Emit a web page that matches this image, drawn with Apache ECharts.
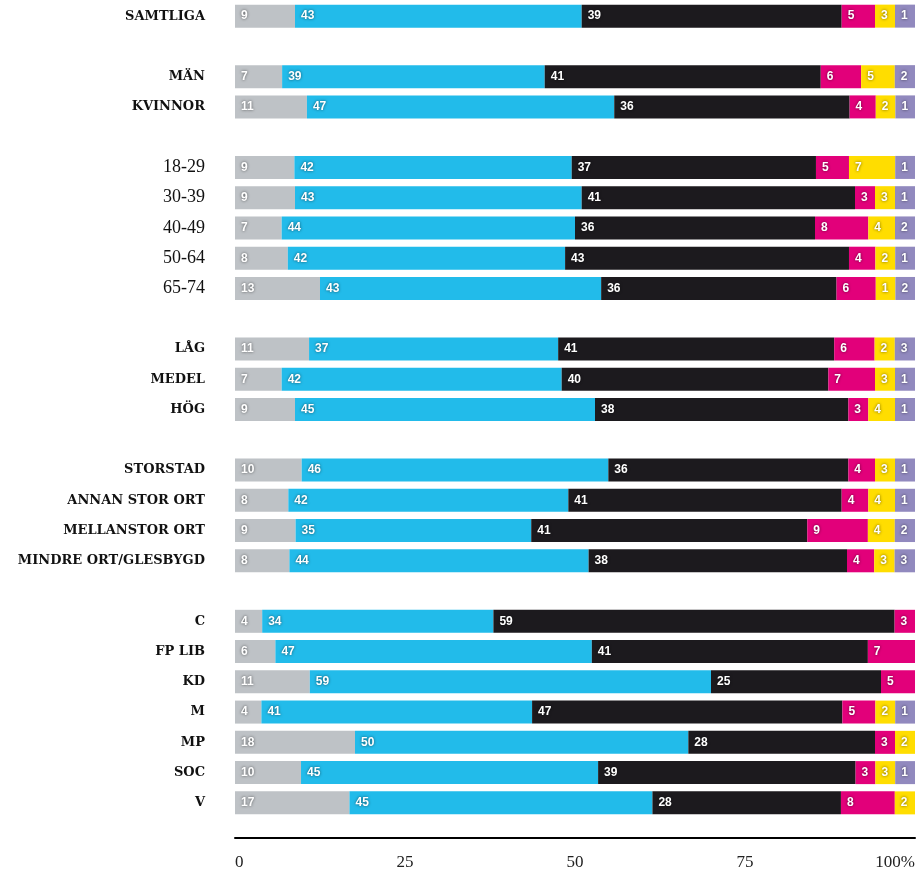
<!DOCTYPE html>
<html>
<head>
<meta charset="utf-8">
<script src="https://cdn.jsdelivr.net/npm/echarts@6/dist/echarts.min.js"></script>
<style>
  html, body { margin: 0; padding: 0; background: #fff; }
  #chart { width: 919px; height: 876px; }
</style>
</head>
<body>
<div id="chart"></div>
<script>
// rader uppifrån och ner, '' = tom rad mellan grupperna
var categories = ['SAMTLIGA', '',
  'MÄN', 'KVINNOR', '',
  '18-29', '30-39', '40-49', '50-64', '65-74', '',
  'LÅG', 'MEDEL', 'HÖG', '',
  'STORSTAD', 'ANNAN STOR ORT', 'MELLANSTOR ORT', 'MINDRE ORT/GLESBYGD', '',
  'C', 'FP LIB', 'KD', 'M', 'MP', 'SOC', 'V'];

var grey   = [9, null, 7, 11, null, 9, 9, 7, 8, 13, null, 11, 7, 9, null, 10, 8, 9, 8, null, 4, 6, 11, 4, 18, 10, 17];
var blue   = [43, null, 39, 47, null, 42, 43, 44, 42, 43, null, 37, 42, 45, null, 46, 42, 35, 44, null, 34, 47, 59, 41, 50, 45, 45];
var black  = [39, null, 41, 36, null, 37, 41, 36, 43, 36, null, 41, 40, 38, null, 36, 41, 41, 38, null, 59, 41, 25, 47, 28, 39, 28];
var pink   = [5, null, 6, 4, null, 5, 3, 8, 4, 6, null, 6, 7, 3, null, 4, 4, 9, 4, null, 3, 7, 5, 5, 3, 3, 8];
var yellow = [3, null, 5, 2, null, 7, 3, 4, 2, 1, null, 2, 3, 4, null, 3, 4, 4, 3, null, null, null, null, 2, 2, 3, 2];
var purple = [1, null, 2, 1, null, 1, 1, 2, 1, 2, null, 3, 1, 1, null, 1, 1, 2, 3, null, null, null, null, 1, null, 1, null];

var xTicks = [0, 25, 50, 75, 100];

var allSeries = [grey, blue, black, pink, yellow, purple];
var colors = ['#bec2c6', '#22bbea', '#1c1a1e', '#e2007a', '#ffdd00', '#9189be'];

// små segment ritas minst 3 enheter breda så att siffran får plats,
// sedan skalas raden så att den fyller 100
var MIN_W = 3;
function shown(v) { return v == null ? 0 : Math.max(v, MIN_W); }
var rowSum = categories.map(function (c, i) {
  var s = 0;
  allSeries.forEach(function (arr) { s += shown(arr[i]); });
  return s;
});

var series = allSeries.map(function (arr, k) {
  return {
    type: 'bar',
    stack: 'tot',
    barWidth: 23,
    itemStyle: { color: colors[k] },
    data: arr.map(function (v, i) {
      return v == null ? '-' : shown(v) * 100 / rowSum[i];
    }),
    label: {
      show: true,
      position: 'insideLeft',
      distance: 6,
      color: '#fff',
      fontFamily: 'Liberation Sans, Arial, sans-serif',
      fontWeight: 'bold',
      fontSize: 12,
      textShadowColor: 'rgba(0,0,0,0.6)',
      textShadowBlur: 3,
      formatter: function (p) { return arr[p.dataIndex]; }
    }
  };
});

var chart = echarts.init(document.getElementById('chart'));
chart.setOption({
  animation: false,
  grid: { left: 235, right: 4, top: 1, bottom: 58 },
  xAxis: {
    type: 'value',
    min: 0,
    max: 100,
    interval: 25,
    offset: 20,
    axisLine: { show: true, lineStyle: { color: '#000', width: 2 } },
    axisTick: { show: false },
    splitLine: { show: false },
    axisLabel: {
      margin: 16,
      color: '#222',
      fontFamily: 'Liberation Serif, serif',
      fontSize: 17,
      alignMinLabel: 'left',
      alignMaxLabel: 'right',
      formatter: function (v) {
        if (xTicks.indexOf(v) < 0) return '';
        return v === 100 ? '100%' : String(v);
      }
    }
  },
  yAxis: {
    type: 'category',
    inverse: true,
    data: categories,
    axisLine: { show: false },
    axisTick: { show: false },
    axisLabel: {
      margin: 30,
      formatter: function (v) {
        if (!v) return '';
        return /^[0-9]/.test(v) ? '{num|' + v + '}' : '{cap|' + v + '}';
      },
      rich: {
        cap: { fontFamily: 'DejaVu Serif, serif', fontWeight: 'bold', fontSize: 13, color: '#111' },
        num: { fontFamily: 'Liberation Serif, serif', fontSize: 18, color: '#111' }
      }
    }
  },
  series: series
});
</script>
</body>
</html>
